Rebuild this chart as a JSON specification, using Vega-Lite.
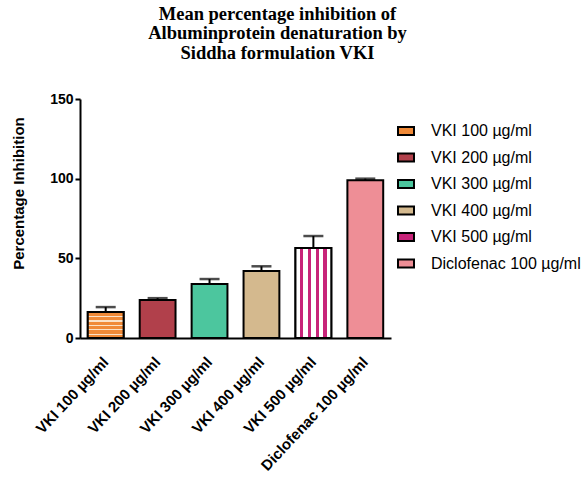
{
  "$schema": "https://vega.github.io/schema/vega-lite/v6.json",
  "width": 311,
  "height": 239,
  "autosize": "none",
  "padding": {"left": 80, "top": 99, "right": 196, "bottom": 142},
  "background": "white",
  "config": {"view": {"stroke": null}},
  "title": {
    "text": ["Mean percentage inhibition of", "Albuminprotein denaturation by", "Siddha formulation VKI"],
    "font": "Liberation Serif",
    "fontSize": 18.5,
    "fontWeight": "bold",
    "color": "black",
    "anchor": "middle",
    "lineHeight": 19.5,
    "dx": 42,
    "offset": 30
  },
  "data": {
    "values": [
      {"group": "VKI 100 µg/ml", "mean": 16.3, "upper": 19.4},
      {"group": "VKI 200 µg/ml", "mean": 23.8, "upper": 25.0},
      {"group": "VKI 300 µg/ml", "mean": 33.9, "upper": 37.0},
      {"group": "VKI 400 µg/ml", "mean": 42.0, "upper": 45.0},
      {"group": "VKI 500 µg/ml", "mean": 56.5, "upper": 64.0},
      {"group": "Diclofenac 100 µg/ml", "mean": 99.0, "upper": 100.0}
    ]
  },
  "encoding": {
    "x": {
      "field": "group",
      "type": "nominal",
      "sort": null,
      "scale": {"paddingInner": 0.31, "paddingOuter": 0.15},
      "axis": {
        "title": null,
        "labelAngle": -47,
        "labelAlign": "right",
        "labelBaseline": "middle",
        "labelFont": "Liberation Sans",
        "labelFontSize": 15,
        "labelFontWeight": "bold",
        "labelColor": "black",
        "ticks": false,
        "domainColor": "black",
        "domainWidth": 2,
        "labelPadding": 21
      }
    }
  },
  "layer": [
    {
      "mark": {"type": "bar", "stroke": "black", "strokeWidth": 2},
      "encoding": {
        "y": {
          "field": "mean",
          "type": "quantitative",
          "scale": {"domain": [0, 150], "nice": false},
          "axis": {
            "title": "Percentage Inhibition",
            "titleFont": "Liberation Sans",
            "titleFontSize": 15,
            "titleFontWeight": "bold",
            "titleColor": "black",
            "titleX": -54,
            "titleY": 94,
            "values": [0, 50, 100, 150],
            "labelFont": "Liberation Sans",
            "labelFontSize": 14,
            "labelFontWeight": "bold",
            "labelColor": "black",
            "grid": false,
            "domainColor": "black",
            "domainWidth": 2,
            "tickColor": "black",
            "tickWidth": 2,
            "tickSize": 5,
            "labelPadding": 2
          }
        },
        "fill": {
          "field": "group",
          "type": "nominal",
          "sort": null,
          "scale": {
            "range": ["#F08A38", "#B1404B", "#4CC69E", "#D4B98E", "#C8247A", "#EE8E96"]
          },
          "legend": {
            "title": null,
            "orient": "none",
            "legendX": 317,
            "legendY": 23,
            "symbolType": "M-1,-0.5H1V0.5H-1Z",
            "symbolSize": 256,
            "symbolStrokeColor": "black",
            "symbolStrokeWidth": 2,
            "labelFont": "Liberation Sans",
            "labelFontSize": 16,
            "labelColor": "black",
            "rowPadding": 9.5,
            "labelOffset": 16,
            "labelLimit": 300
          }
        }
      }
    },
    {
      "transform": [{"filter": "datum.group == 'VKI 100 µg/ml'"}],
      "mark": {
        "type": "bar",
        "stroke": "black",
        "strokeWidth": 2,
        "fill": {
          "gradient": "linear",
          "x1": 0, "x2": 0, "y1": 0, "y2": 1,
          "stops": [
            {"offset": 0, "color": "#F08A38"},
            {"offset": 0.15, "color": "#F08A38"},
            {"offset": 0.15, "color": "#FBE2C8"},
            {"offset": 0.2, "color": "#FBE2C8"},
            {"offset": 0.2, "color": "#F08A38"},
            {"offset": 0.32, "color": "#F08A38"},
            {"offset": 0.32, "color": "#FBE2C8"},
            {"offset": 0.37, "color": "#FBE2C8"},
            {"offset": 0.37, "color": "#F08A38"},
            {"offset": 0.49, "color": "#F08A38"},
            {"offset": 0.49, "color": "#FBE2C8"},
            {"offset": 0.54, "color": "#FBE2C8"},
            {"offset": 0.54, "color": "#F08A38"},
            {"offset": 0.66, "color": "#F08A38"},
            {"offset": 0.66, "color": "#FBE2C8"},
            {"offset": 0.71, "color": "#FBE2C8"},
            {"offset": 0.71, "color": "#F08A38"},
            {"offset": 0.83, "color": "#F08A38"},
            {"offset": 0.83, "color": "#FBE2C8"},
            {"offset": 0.88, "color": "#FBE2C8"},
            {"offset": 0.88, "color": "#F08A38"},
            {"offset": 1, "color": "#F08A38"}
          ]
        }
      },
      "encoding": {
        "y": {"field": "mean", "type": "quantitative"}
      }
    },
    {
      "transform": [{"filter": "datum.group == 'VKI 500 µg/ml'"}],
      "mark": {
        "type": "bar",
        "stroke": "black",
        "strokeWidth": 2,
        "fill": {
          "gradient": "linear",
          "x1": 0, "x2": 1, "y1": 0, "y2": 0,
          "stops": [
            {"offset": 0, "color": "white"},
            {"offset": 0.12, "color": "white"},
            {"offset": 0.12, "color": "#C8247A"},
            {"offset": 0.21, "color": "#C8247A"},
            {"offset": 0.21, "color": "white"},
            {"offset": 0.35, "color": "white"},
            {"offset": 0.35, "color": "#C8247A"},
            {"offset": 0.44, "color": "#C8247A"},
            {"offset": 0.44, "color": "white"},
            {"offset": 0.56, "color": "white"},
            {"offset": 0.56, "color": "#C8247A"},
            {"offset": 0.65, "color": "#C8247A"},
            {"offset": 0.65, "color": "white"},
            {"offset": 0.78, "color": "white"},
            {"offset": 0.78, "color": "#C8247A"},
            {"offset": 0.87, "color": "#C8247A"},
            {"offset": 0.87, "color": "white"},
            {"offset": 1, "color": "white"}
          ]
        }
      },
      "encoding": {
        "y": {"field": "mean", "type": "quantitative"}
      }
    },
    {
      "mark": {"type": "rule", "color": "black", "strokeWidth": 2},
      "encoding": {
        "y": {"field": "mean", "type": "quantitative"},
        "y2": {"field": "upper"}
      }
    },
    {
      "mark": {"type": "tick", "color": "black", "thickness": 2.5, "size": 20, "orient": "horizontal"},
      "encoding": {
        "y": {"field": "upper", "type": "quantitative"}
      }
    }
  ]
}
